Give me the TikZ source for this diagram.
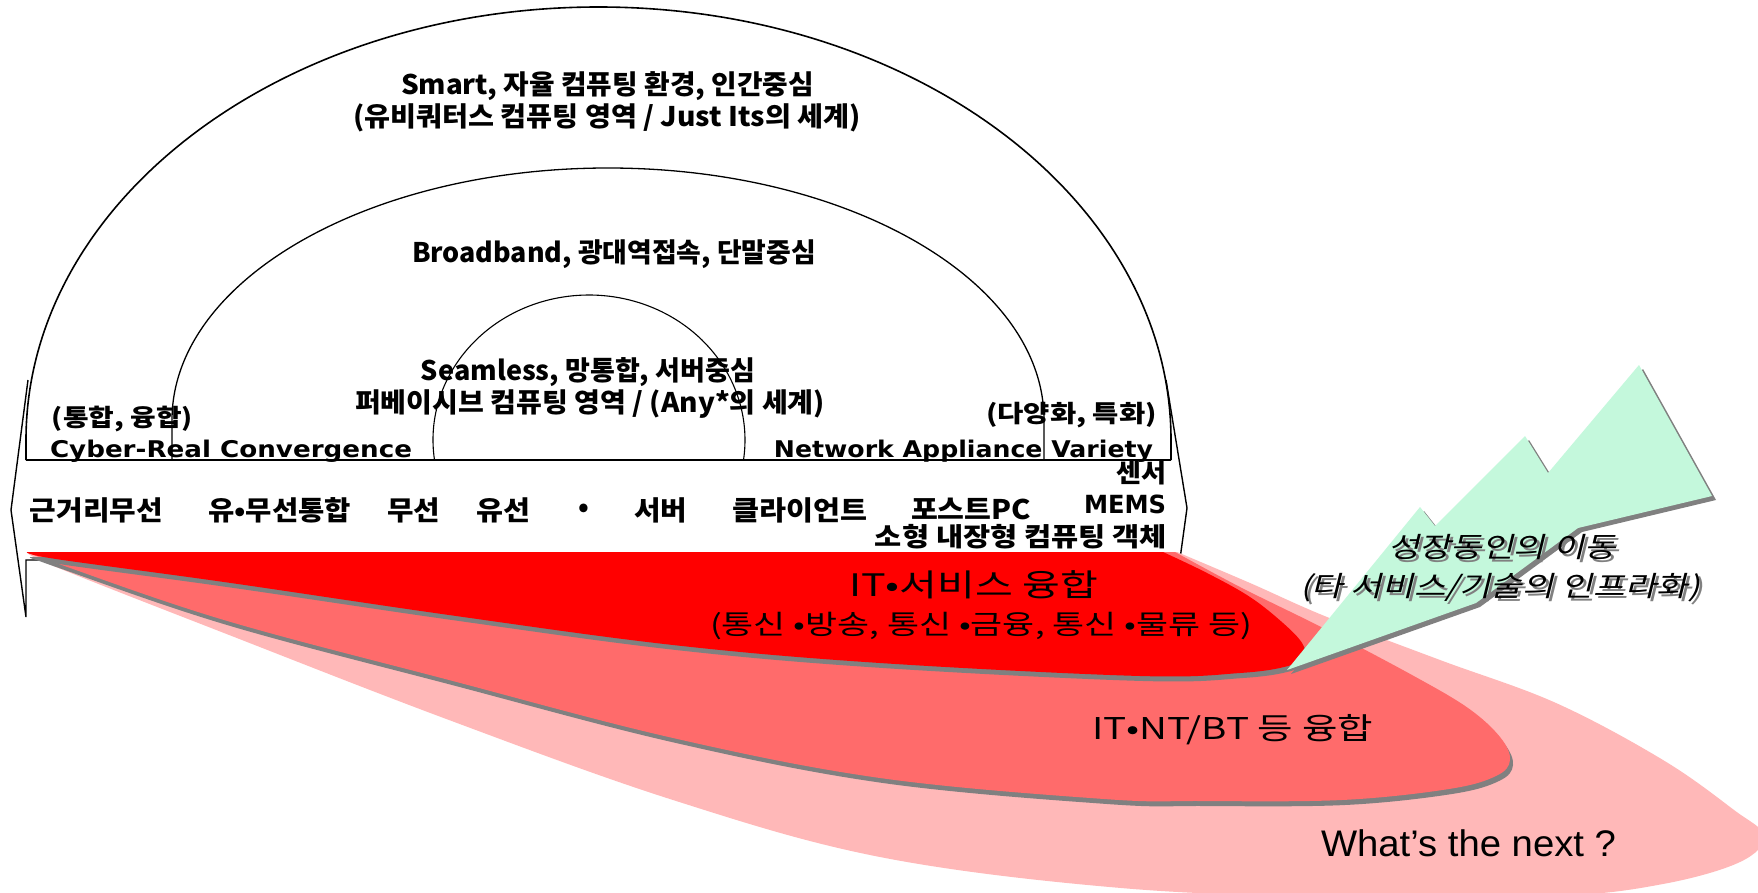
\documentclass[tikz,border=0pt]{standalone}
\usepackage{fontspec}
\usepackage{graphicx}
\newfontfamily\kr{Noto Sans CJK KR}
\newfontfamily\krsl{Noto Sans CJK KR}[FakeSlant=0.2]
\newfontfamily\dv{DejaVu Sans}
\newfontfamily\lib{Liberation Sans}
\definecolor{redA}{RGB}{255,0,0}
\definecolor{redB}{RGB}{255,107,107}
\definecolor{redC}{RGB}{255,184,184}
\definecolor{shd}{RGB}{128,128,128}
\definecolor{mint}{RGB}{196,248,220}
\newcommand\fitw[2]{\resizebox{#1pt}{\height}{#2}}
\newcommand\hb[1]{\kr\bfseries\fontsize{#1}{#1}\selectfont}
\newcommand\hr[1]{\kr\fontsize{#1}{#1}\selectfont}
\newcommand\hs[1]{\krsl\fontsize{#1}{#1}\selectfont}
\newcommand\db[1]{\dv\bfseries\fontsize{#1}{#1}\selectfont}
\def\pathA{(27,552) -- (1163,552) -- plot[smooth, tension=0.6] coordinates {(1163,552) (1207,573) (1250,597) (1283,623) (1302,643) (1303,656) (1288,666) (1240,673) (1140,676) (880,663) (673,645) (449,615) (224,582) (56,559) (27,552)} -- cycle}
\def\pathB{(27,552) -- (1175,552) -- plot[smooth, tension=0.6] coordinates {(1175,552) (1240,587) (1323,628) (1412,675) (1468,708) (1500,737) (1510,760) (1496,776) (1449,789) (1342,800) (1200,801) (1104,799) (880,778) (673,738) (449,680) (224,620) (56,563) (27,552)} -- cycle}
\def\pathC{(27,552) -- (1177,552) -- plot[smooth, tension=0.6] coordinates {(1177,552) (1250,583) (1327,617) (1440,660) (1556,703) (1663,760) (1734,810) (1764,836) (1740,862) (1663,884) (1556,896) (1345,897) (1121,888) (880,857) (673,800) (449,720) (224,633) (56,567) (27,552)} -- cycle}
\def\pathL{(1287,670) -- (1420,507) -- (1435,526) -- (1525,436) -- (1548,473) -- (1639,365) -- (1712,496) -- (1578,528) -- (1476,603) -- cycle}
\begin{document}
\begin{tikzpicture}[x=1pt,y=-1pt,
  lbl/.style={inner sep=0pt, outer sep=0pt},
  thick line/.style={line width=1.6pt},
  thin line/.style={line width=1.1pt}]
\useasboundingbox (0,0) rectangle (1758,893);
\fill[white] (0,0) rectangle (1758,893);
% arcs and frame
\draw[thick line] (26,460) -- (26,440) arc[start angle=180, end angle=360, x radius=572.5, y radius=433] -- (1171,460);
\draw[thick line] (26,460) -- (1171,460);
\draw[line width=1.3pt] (172,460) -- (172,420) arc[start angle=180, end angle=360, x radius=436, y radius=252] -- (1044,460);
\draw[thin line] (434.5,460) arc[start angle=172.07, end angle=367.93, x radius=156, y radius=145];
\draw[line width=1.4pt] (28,380) -- (11,510) -- (26,617) -- (26,560) -- (60,560);
\draw[line width=1.4pt] (1166,380) -- (1187,508) -- (1172,617);
% coloured regions
\begin{scope}
\clip (0,0) rectangle (1758,893);
\fill[redC] \pathC;
\fill[shd, shift={(3,5)}] \pathB;
\fill[redB] \pathB;
\fill[shd, shift={(3,5)}] \pathA;
\fill[redA] \pathA;
\fill[shd, shift={(4,4)}] \pathL;
\fill[mint] \pathL;
\end{scope}
% top texts
\node[lbl] (t1) at (607.5,86) {\fitw{413}{\hb{27}Smart, 자율 컴퓨팅 환경, 인간중심}};
\node[lbl] (t2) at (607,117.5) {\fitw{508}{\hb{27}(유비쿼터스 컴퓨팅 영역 / Just Its의 세계)}};
\node[lbl] (t3) at (614,254) {\fitw{404}{\hb{27}Broadband, 광대역접속, 단말중심}};
\node[lbl] (t4) at (588,372.5) {\fitw{334}{\hb{27}Seamless, 망통합, 서버중심}};
\node[lbl] (t5) at (590,404) {\fitw{470}{\hb{27}퍼베이시브 컴퓨팅 영역 / (Any*의 세계)}};
\node[lbl, anchor=west] (t6) at (52,419) {\fitw{141}{\hb{24}(통합, 융합)}};
\node[lbl, anchor=base west] (t7) at (50,457) {\fitw{362}{\db{23}Cyber-Real Convergence}};
\node[lbl, anchor=east] (t8) at (1157,415) {\fitw{171}{\hb{24}(다양화, 특화)}};
\node[lbl, anchor=base east] (t9) at (1153,457) {\fitw{379}{\db{23}Network Appliance Variety}};
% row
\node[lbl] (r1) at (96.5,510) {\fitw{133}{\hb{27}근거리무선}};
\node[lbl] (r2) at (279.5,510) {\fitw{143}{\hb{27}유•무선통합}};
\node[lbl] (r3) at (413.5,510) {\fitw{53}{\hb{27}무선}};
\node[lbl] (r4) at (503,510) {\fitw{54}{\hb{27}유선}};
\node[lbl] (r5) at (584,510) {\hb{27}•};
\node[lbl] (r6) at (660.5,510) {\fitw{53}{\hb{27}서버}};
\node[lbl] (r7) at (799.5,510) {\fitw{135}{\hb{27}클라이언트}};
\node[lbl] (r8) at (971,509) {\fitw{120}{\hb{27}포스트PC}};
\node[lbl, anchor=east] (c1) at (1166,473) {\fitw{50}{\hb{26}센서}};
\node[lbl, anchor=east] (c2) at (1166,504) {\fitw{82}{\db{25}MEMS}};
\node[lbl, anchor=east] (c3) at (1167,537) {\fitw{292}{\hb{26}소형 내장형 컴퓨팅 객체}};
% region texts
\node[lbl] (s1) at (973.5,585) {\fitw{249}{\hr{31}IT•서비스 융합}};
\node[lbl] (s2) at (981,626) {\fitw{542}{\hr{27}(통신 •방송, 통신 •금융, 통신 •물류 등)}};
\node[lbl] (s3) at (1232.5,730) {\fitw{281}{\hr{30}IT•NT/BT 등 융합}};
\node[lbl] (s4) at (1468.5,843) {\fitw{295}{\lib\fontsize{37}{37}\selectfont What’s the next ?}};
% lightning texts with shadow
\node[lbl, text=shd] (g1s) at (1505,550) {\fitw{228}{\hs{28}성장동인의 이동}};
\node[lbl] (g1) at (1502,547) {\fitw{228}{\hs{28}성장동인의 이동}};
\node[lbl, text=shd] (g2s) at (1503,591) {\fitw{400}{\hs{28}(타 서비스/기술의 인프라화)}};
\node[lbl] (g2) at (1500,588) {\fitw{400}{\hs{28}(타 서비스/기술의 인프라화)}};
\end{tikzpicture}
\end{document}
